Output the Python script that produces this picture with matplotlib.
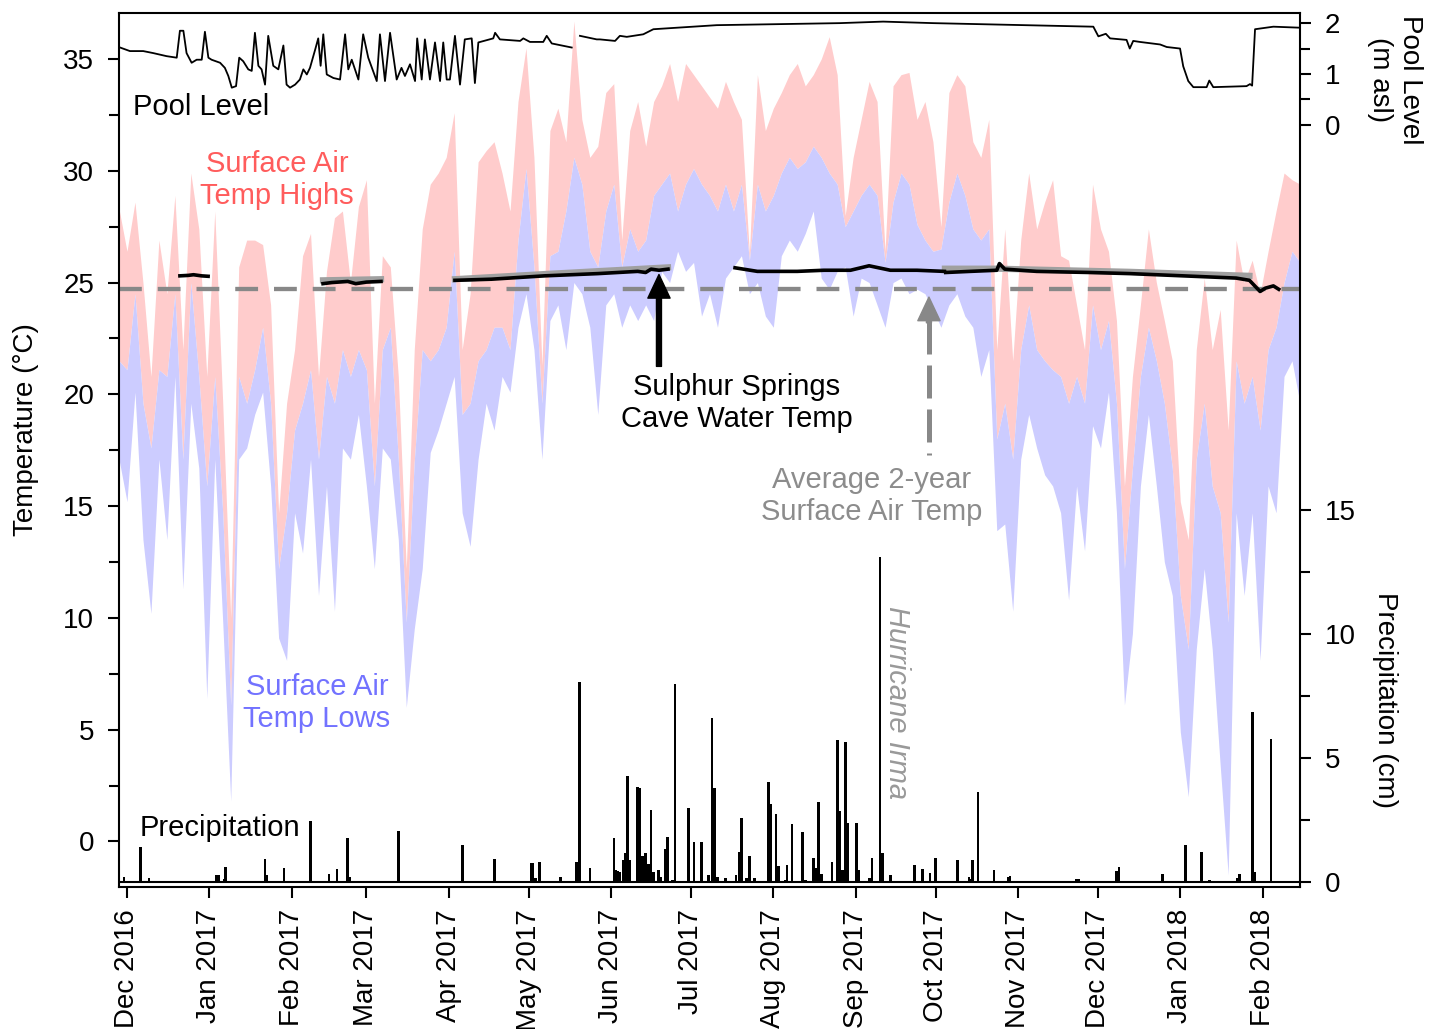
import numpy as np
import matplotlib.pyplot as plt
import matplotlib.dates as mdates
from matplotlib.ticker import FixedLocator

plt.rcParams['font.family'] = ['Liberation Sans', 'DejaVu Sans']

nan = np.nan
start = np.datetime64('2016-11-28')
end = np.datetime64('2018-02-15')

# daily air temperature envelope, read every 3 days from 2016-11-28
step = 3
highs = [28.3, 26.4, 28.6, 25.0, 20.8, 26.9, 24.5, 28.9, 22.0, 29.9,
         27.4, 20.8, 28.2, 19.6, 10.0, 25.7, 26.9, 26.9, 26.7, 24.0,
         14.7, 19.6, 22.0, 26.2, 27.2, 20.8, 25.5, 27.9, 28.2, 25.0,
         28.4, 29.6, 19.6, 26.2, 25.7, 20.8, 12.2, 22.0, 27.4, 29.4,
         29.9, 30.6, 32.6, 22.0, 24.5, 30.4, 30.9, 31.3, 29.9, 28.2,
         33.1, 35.5, 30.6, 21.3, 31.8, 32.8, 31.3, 36.7, 32.3, 30.6,
         31.1, 33.5, 33.9, 26.9, 31.8, 33.1, 31.1, 33.1, 33.8, 34.8,
         33.1, 34.8, 34.3, 33.8, 33.3, 32.8, 34.0, 33.1, 32.3, 26.3,
         34.3, 31.8, 32.8, 33.5, 34.3, 34.8, 33.8, 34.3, 35.0, 36.0,
         34.3, 28.0, 30.6, 32.3, 34.0, 33.1, 26.4, 33.8, 34.3, 34.4,
         32.3, 33.1, 31.3, 27.5, 33.5, 34.3, 33.8, 31.3, 30.6, 32.3,
         22.0, 27.4, 21.5, 26.9, 29.9, 27.4, 28.6, 29.6, 26.2, 26.0,
         24.0, 22.0, 29.4, 27.4, 26.4, 23.3, 15.9, 20.8, 24.0, 27.4,
         25.0, 23.3, 21.5, 15.2, 13.5, 22.0, 25.2, 22.0, 23.8, 18.4,
         26.9, 25.0, 26.0, 24.5, 26.4, 28.2, 29.9, 29.6, 29.4]
mids = [21.5, 21.1, 24.5, 19.6, 17.6, 21.1, 20.8, 24.5, 17.1, 25.0,
        20.8, 15.9, 20.8, 14.7, 6.1, 20.8, 19.6, 21.1, 23.0, 19.6,
        12.2, 14.7, 18.4, 19.6, 21.1, 17.1, 20.8, 19.6, 22.0, 20.8,
        22.0, 21.1, 15.9, 22.0, 23.0, 17.1, 9.8, 17.0, 22.0, 21.5,
        22.0, 23.0, 26.4, 19.1, 19.6, 21.5, 22.0, 23.0, 23.0, 22.0,
        26.9, 30.1, 25.7, 19.6, 26.2, 26.4, 28.2, 30.6, 29.4, 26.4,
        25.7, 28.2, 29.4, 25.7, 27.4, 26.4, 26.9, 28.9, 29.4, 29.9,
        28.2, 29.4, 30.1, 29.4, 28.9, 28.2, 29.4, 28.2, 29.4, 26.0,
        29.4, 28.2, 28.9, 29.9, 30.6, 30.1, 30.4, 31.1, 30.6, 29.9,
        29.4, 27.5, 28.2, 28.9, 29.4, 28.9, 25.9, 28.6, 29.9, 29.4,
        27.6, 26.9, 26.4, 26.5, 28.6, 29.9, 28.9, 27.4, 26.9, 27.4,
        18.0, 19.6, 17.1, 22.0, 24.0, 22.0, 21.5, 21.1, 20.8, 19.6,
        20.8, 19.6, 24.0, 22.0, 23.3, 19.6, 12.2, 16.7, 20.8, 23.0,
        21.5, 19.6, 16.7, 11.0, 8.6, 17.1, 19.6, 15.9, 14.7, 9.8,
        21.5, 19.6, 20.8, 18.4, 22.0, 23.0, 25.0, 26.4, 25.9]
lows = [17.1, 15.2, 20.1, 13.5, 10.2, 17.1, 13.5, 20.8, 11.3, 19.6,
        16.7, 6.4, 17.1, 9.8, 1.8, 17.1, 17.6, 19.1, 20.1, 15.9,
        9.1, 8.1, 14.7, 12.9, 17.1, 11.0, 15.9, 10.3, 17.6, 17.1,
        19.1, 15.9, 12.2, 17.6, 17.1, 13.5, 6.0, 9.5, 12.2, 17.4,
        18.4, 19.6, 20.8, 14.7, 13.2, 17.1, 19.6, 18.4, 20.8, 20.1,
        23.0, 24.5, 22.0, 17.1, 23.3, 24.0, 22.0, 25.0, 24.5, 23.0,
        19.1, 24.0, 24.5, 23.0, 24.0, 23.3, 24.0, 23.3, 25.5, 25.0,
        26.4, 25.5, 25.9, 23.5, 24.5, 23.0, 25.2, 25.7, 26.2, 24.5,
        25.0, 23.5, 23.0, 26.2, 26.9, 26.4, 27.2, 28.2, 25.2, 24.7,
        25.5, 25.7, 23.5, 25.2, 25.0, 24.0, 23.0, 25.0, 25.2, 24.5,
        24.7, 24.5, 23.8, 23.0, 24.0, 24.5, 23.5, 23.0, 20.8, 22.0,
        13.9, 14.2, 10.3, 17.1, 19.1, 17.6, 16.4, 15.9, 14.7, 10.8,
        15.9, 13.0, 18.6, 17.6, 20.1, 14.7, 6.1, 9.3, 15.9, 19.1,
        15.9, 12.5, 11.0, 4.9, 2.0, 8.6, 12.2, 8.6, 3.4, -1.5,
        14.7, 11.0, 14.7, 8.1, 15.9, 14.7, 20.8, 21.5, 19.6]

avg_air_temp = 24.73

# cave water temperature (two loggers), days after 2016-11-28
cave_days = [22.9, 26, 28, 31, 33.5, 33.6,
             76.7, 80, 86, 89, 93, 98.5, 98.6,
             126.3, 140, 160, 180, 195, 198, 200, 203, 206.4, 206.5,
             231.6, 240, 255, 265, 275, 282, 290, 300, 310.3, 310.4,
             310.8, 320, 330, 331, 333, 345, 365, 380, 400, 420, 425, 427, 429, 431, 434, 436]
cave_black = [25.3, 25.32, 25.35, 25.3, 25.28, nan,
              24.95, 25.0, 25.05, 24.95, 25.02, 25.05, nan,
              25.1, 25.15, 25.3, 25.4, 25.5, 25.45, 25.6, 25.55, 25.6, nan,
              25.66, 25.5, 25.5, 25.55, 25.55, 25.75, 25.55, 25.55, 25.5, nan,
              25.45, 25.5, 25.55, 25.85, 25.6, 25.5, 25.45, 25.4, 25.3, 25.2, 25.1, 24.85, 24.6, 24.75, 24.85, 24.7]
gray_days = [76.7, 98.5, 98.6, 126.3, 160, 206.4, 206.5, 310.5, 330, 380, 425]
cave_gray = [25.1, 25.15, nan, 25.15, 25.38, 25.68, nan, 25.62, 25.62, 25.48, 25.3]

# pool level (m asl)
pool_days = [0.4, 4.1, 9.1, 12.9, 17.9, 21.7, 22.9, 24.2, 25.4, 27.3, 29.2, 31.1, 32.3, 33.6, 34.8,
             38.0, 39.8, 41.1, 42.4, 44.0, 45.2, 46.7, 48.6, 49.9, 51.1, 52.4, 53.6, 54.9, 56.1, 58.0,
             59.9, 61.8, 63.0, 64.3, 66.2, 68.0, 69.3, 70.6, 71.8, 73.7, 74.9, 75.8, 76.8, 78.1, 80.6,
             83.1, 85.0, 86.2, 87.5, 90.0, 91.8, 93.7, 96.9, 98.1, 100.0, 101.9, 104.4, 106.2, 107.5, 109.4,
             111.3, 112.1, 113.8, 115.0, 116.9, 118.8, 120.7, 121.9, 123.2, 124.4, 126.3, 128.2, 130.0, 132.6, 133.8,
             135.1, 140.7, 141.4, 143.2, 150.8, 152.0, 154.5, 159.5, 160.8, 162.7, 170.2, 171.5, 173.3, 179.6, 180.8,
             186.5, 188.3, 190.9, 197.1, 200.9, 224.7, 271.0, 287.3, 306.1, 366.3, 368.2, 371.0, 372.6, 378.8, 380.0,
             381.3, 383.8, 391.4, 393.9, 398.9, 400.1, 402.0, 403.9, 408.9, 409.9, 411.4, 423.9, 425.2, 426.0, 427.1,
             434.0, 444.0]
pool_level = [1.52, 1.45, 1.45, 1.41, 1.35, 1.32, 1.85, 1.85, 1.41, 1.22, 1.28, 1.28, 1.83, 1.32, 1.28,
              1.22, 1.12, 0.96, 0.73, 0.76, 1.32, 1.25, 1.09, 1.06, 1.81, 1.16, 1.09, 0.79, 1.75, 1.16,
              1.09, 1.56, 0.79, 0.73, 0.79, 0.89, 1.09, 0.99, 1.12, 1.47, 1.70, 1.16, 1.78, 0.99, 0.92,
              0.89, 1.78, 1.09, 1.28, 0.89, 1.78, 1.32, 0.86, 1.78, 0.86, 1.81, 0.89, 1.12, 0.96, 1.19,
              0.86, 1.70, 0.89, 1.68, 0.89, 1.62, 0.86, 1.62, 0.89, 0.89, 1.75, 0.79, 1.68, 1.70, 0.82,
              1.62, 1.70, 1.81, 1.68, 1.65, 1.70, 1.63, 1.63, 1.75, 1.60, 1.52, nan, 1.75, 1.68, 1.68,
              1.65, 1.75, 1.73, 1.78, 1.88, 1.96, 2.00, 2.03, 2.00, 1.93, 1.74, 1.79, 1.70, 1.67, 1.50,
              1.65, 1.63, 1.58, 1.53, 1.50, 1.15, 0.86, 0.74, 0.74, 0.87, 0.74, 0.76, 0.80, 0.77, 1.88,
              1.93, 1.91]

# daily precipitation (cm)
rain_days = [1.9, 8.2, 11.3, 36.7, 37.5, 39.5, 40.1, 54.9, 55.6, 62, 72, 79, 82, 86, 86.8, 105.1,
             129.2, 141.1, 154.9, 155.5, 156.2, 156.8, 158, 166, 172, 173.1, 177.1,
             186.1, 186.8, 187.5, 188.2, 189.5, 190.2, 191.1, 192.1, 194.9, 195.9, 196.9, 198, 199, 200,
             201, 202.8, 203.6, 205.4, 206.1, 208, 209, 214, 216.2, 219, 221.7, 223, 224, 225, 228,
             232, 233.2, 234.1, 236, 237, 239, 244.1, 245.1, 247, 248, 250.5, 251.2, 253, 257, 258,
             261, 262, 263, 264, 268, 270, 271, 272, 273.2, 274.1, 277.3, 278.2, 282.2, 283.1, 286.1,
             287, 290, 299, 302.1, 304.9, 307, 315.2, 319.5, 320.2, 320.9, 323, 329, 334.3, 335, 350,
             357, 360, 360.8, 375, 375.9, 381, 392.2, 401, 407, 410, 420.3, 421.2, 426.1, 427, 433.1]
rain_cm = [0.2, 1.4, 0.16, 0.3, 0.3, 0.12, 0.62, 0.93, 0.27, 0.56, 2.47, 0.32, 0.52, 1.76, 0.2, 2.07,
           1.5, 0.94, 0.77, 0.77, 0.15, 0.15, 0.8, 0.19, 0.8, 8.08, 0.56,
           1.76, 0.5, 0.45, 0.4, 0.9, 1.16, 4.29, 0.9, 3.84, 3.78, 1.03, 1.19, 0.73, 2.9,
           0.39, 0.5, 0.2, 1.32, 1.83, 0.1, 7.98, 2.97, 1.61, 1.6, 0.3, 6.63, 3.8, 0.2, 0.15,
           0.3, 1.21, 2.59, 0.15, 1.06, 0.15, 4.04, 3.14, 2.74, 0.63, 0.1, 0.67, 2.33, 2.03, 0.1,
           0.97, 0.56, 3.24, 0.32, 0.8, 5.73, 2.86, 0.5, 5.66, 2.4, 2.4, 0.5, 0.15, 0.97, 13.1,
           1.17, 0.3, 0.7, 0.52, 0.36, 0.97, 0.87, 0.2, 0.12, 0.9, 3.64, 0.5, 0.2, 0.23, 0.05,
           0.06, 0.13, 0.13, 0.45, 0.62, 0.04, 0.34, 1.5, 1.2, 0.08, 0.15, 0.34, 6.84, 0.4, 5.75]


def to_dates(days):
    return start + (np.asarray(days, dtype=float) * 1440).astype('timedelta64[m]')


t_dates = to_dates(np.arange(len(highs)) * step)

fig = plt.figure(figsize=(14.39, 10.29), dpi=100)
ax = fig.add_axes([0.0827, 0.138, 0.8207, 0.8494])

ax.fill_between(t_dates, mids, highs, color='#ffcccc', lw=0)
ax.fill_between(t_dates, lows, mids, color='#ccccff', lw=0)
ax.axhline(avg_air_temp, color='#888888', lw=3.1, dashes=(5.3, 3.7))
ax.plot(to_dates(gray_days), cave_gray, color='#a0a0a0', lw=4.5)
ax.plot(to_dates(cave_days), cave_black, color='black', lw=2.6)

# arrows
x_cave = to_dates([203])[0]
ax.annotate('', xy=(x_cave, 25.36), xytext=(x_cave, 21.25),
            arrowprops=dict(facecolor='black', edgecolor='black', width=3.6,
                            headwidth=16, headlength=17))
x_avg = to_dates([304.5])[0]
ax.plot([x_avg, x_avg], [23.3, 17.3], color='#888888', lw=3.6, dashes=(6.6, 2.2))
ax.annotate('', xy=(x_avg, 24.35), xytext=(x_avg, 23.2),
            arrowprops=dict(facecolor='#888888', edgecolor='#888888', width=3.6,
                            headwidth=16, headlength=17))

ax.set_xlim(start, end)
ax.set_ylim(-2.04, 37.06)
ax.set_yticks([0, 5, 10, 15, 20, 25, 30, 35])
ax.yaxis.set_minor_locator(FixedLocator([2.5, 7.5, 12.5, 17.5, 22.5, 27.5, 32.5]))
ax.xaxis.set_major_locator(mdates.MonthLocator())
ax.xaxis.set_major_formatter(mdates.DateFormatter('%b %Y'))
ax.tick_params(axis='both', which='major', direction='out', length=8, width=1.5,
               labelsize=20, pad=8, right=False, top=False)
ax.tick_params(axis='y', which='minor', direction='out', length=7, width=1.5, right=False)
ax.tick_params(axis='y', pad=10)
plt.setp(ax.get_xticklabels(), rotation=90)
for s in ax.spines.values():
    s.set_linewidth(1.5)
ax.set_ylabel('Temperature (°C)', fontsize=20)
ax.yaxis.set_label_coords(-0.068, 0.523)

# pool level axis (upper right)
ax2 = ax.twinx()
ax2.plot(to_dates(pool_days), pool_level, color='black', lw=1.3)
ax2.set_ylim(-15.0, 2.2)
ax2.set_yticks([0, 1, 2])
ax2.yaxis.set_minor_locator(FixedLocator([0.5, 1.5]))

# precipitation axis (lower right)
ax3 = ax.twinx()
ax3.bar(to_dates(rain_days), rain_cm, width=1.0, color='black', lw=0)
ax3.axhline(0, color='black', lw=1.5)
ax3.set_ylim(-0.2, 35.04)
ax3.set_yticks([0, 5, 10, 15])
ax3.yaxis.set_minor_locator(FixedLocator([2.5, 7.5, 12.5]))

for a in (ax2, ax3):
    for s in a.spines.values():
        s.set_visible(False)
    a.tick_params(axis='y', which='major', direction='out', length=8, width=1.5,
                  labelsize=20, pad=10)
    a.tick_params(axis='y', which='minor', direction='out', length=7, width=1.5)
ax3.set_xlim(start, end)


def fx(x):
    return x / 1439


def fy(y):
    return 1 - y / 1029


fig.text(fx(1395), fy(80), 'Pool Level\n(m asl)', rotation=270, fontsize=20,
         ha='center', va='center', multialignment='center')
fig.text(fx(1385), fy(700), 'Precipitation (cm)', rotation=270, fontsize=20,
         ha='center', va='center')

fig.text(fx(133), fy(107), 'Pool Level', fontsize=21, ha='left', va='center')
fig.text(fx(277), fy(180), 'Surface Air\nTemp Highs', fontsize=21, color='#ff5c5c',
         ha='center', va='center', multialignment='center')
fig.text(fx(317), fy(703), 'Surface Air\nTemp Lows', fontsize=21, color='#7272ff',
         ha='center', va='center', multialignment='center')
fig.text(fx(140), fy(828), 'Precipitation', fontsize=21, ha='left', va='center')
fig.text(fx(737), fy(403), 'Sulphur Springs\nCave Water Temp', fontsize=21,
         ha='center', va='center', multialignment='center')
fig.text(fx(872), fy(496), 'Average 2-year\nSurface Air Temp', fontsize=21, color='#8c8c8c',
         ha='center', va='center', multialignment='center')
fig.text(fx(897), fy(703), 'Hurricane Irma', fontsize=21, color='#999999', style='italic',
         rotation=270, ha='center', va='center',
         family=['Liberation Sans Narrow', 'Liberation Sans'])

fig.savefig('out.png', dpi=100)
